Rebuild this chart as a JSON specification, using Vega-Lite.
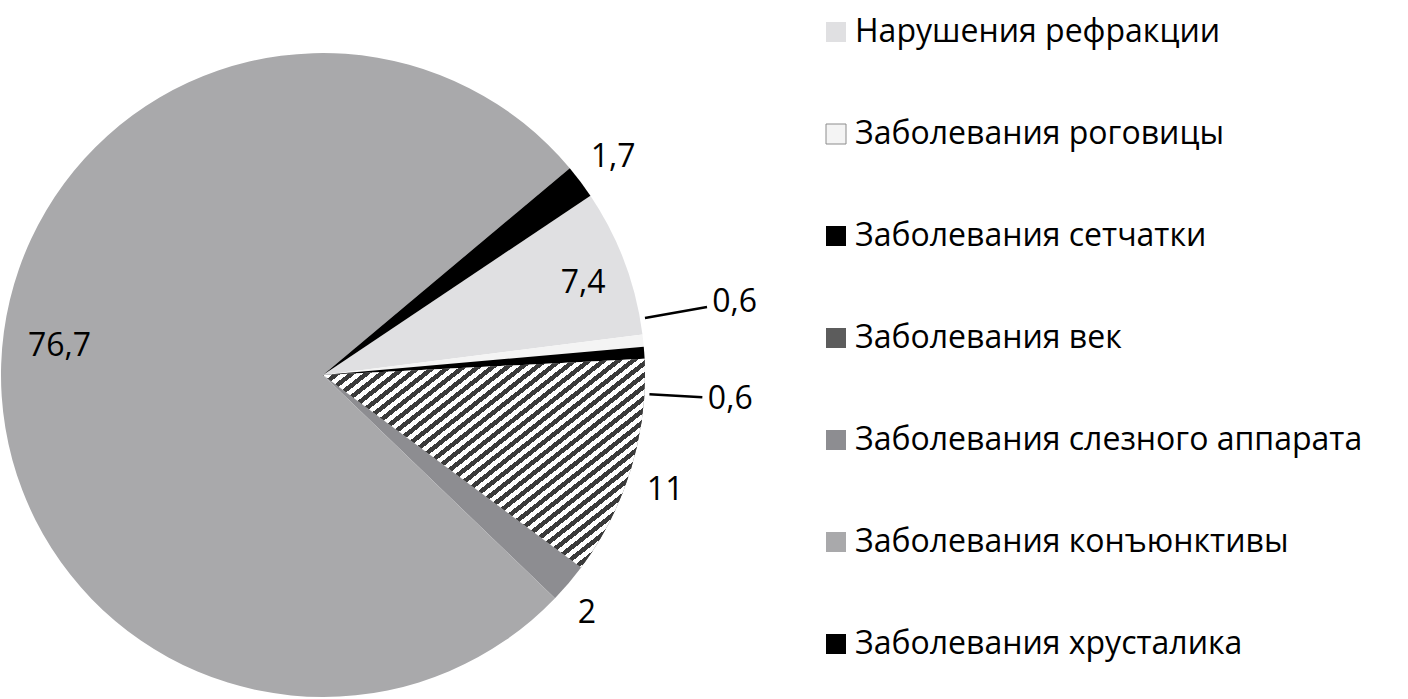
{
  "$schema": "https://vega.github.io/schema/vega-lite/v6.json",
  "width": 646,
  "height": 750,
  "autosize": {"type": "none"},
  "padding": {"left": 0, "top": 0, "right": 762, "bottom": 0},
  "background": "white",
  "config": {"view": {"stroke": null}, "font": "Open Sans"},
  "data": {
    "values": [
      {"cat": "Нарушения рефракции", "value": 7.4, "label": "7,4", "order": 1},
      {"cat": "Заболевания роговицы", "value": 0.6, "label": "0,6", "order": 2},
      {"cat": "Заболевания сетчатки", "value": 0.6, "label": "0,6", "order": 3},
      {"cat": "Заболевания век", "value": 11, "label": "11", "order": 4},
      {"cat": "Заболевания слезного аппарата", "value": 2, "label": "2", "order": 5},
      {"cat": "Заболевания конъюнктивы", "value": 76.7, "label": "76,7", "order": 6},
      {"cat": "Заболевания хрусталика", "value": 1.7, "label": "1,7", "order": 7}
    ]
  },
  "transform": [
    {"stack": "value", "groupby": [], "sort": [{"field": "order", "order": "ascending"}], "as": ["s0", "s1"]}
  ],
  "layer": [
    {
      "mark": {"type": "arc", "radius": 322},
      "encoding": {
        "theta": {"field": "s0", "type": "quantitative", "scale": {"domain": [0, 100], "range": [0.98, 7.2632]}},
        "theta2": {"field": "s1"},
        "color": {
          "field": "cat",
          "type": "nominal",
          "sort": null,
          "scale": {
            "domain": ["Нарушения рефракции", "Заболевания роговицы", "Заболевания сетчатки", "Заболевания век", "Заболевания слезного аппарата", "Заболевания конъюнктивы", "Заболевания хрусталика"],
            "range": ["#e0e0e2", "#f4f4f4", "#000000", "#5c5c5c", "#8d8d91", "#a9a9ab", "#000000"]
          },
          "legend": {
            "title": null,
            "orient": "none",
            "legendX": 820,
            "legendY": 16,
            "symbolType": "square",
            "symbolSize": 400,
            "symbolStrokeWidth": 0,
            "labelFont": "Open Sans",
            "labelFontSize": 32,
            "labelColor": "#000000",
            "labelLimit": 700,
            "labelOffset": 3,
            "rowPadding": 70,
            "padding": 0,
            "encode": {
              "symbols": {
                "update": {
                  "stroke": [
                    {"test": "datum.value === 'Заболевания роговицы'", "value": "#8c8c8c"},
                    {"value": "transparent"}
                  ],
                  "strokeWidth": {"value": 1}
                }
              }
            }
          }
        }
      }
    },
    {
      "transform": [{"filter": "datum.order === 4"}],
      "mark": {
        "type": "arc",
        "radius": 322,
        "fill": {
          "gradient": "linear", "x1": 0, "y1": 0, "x2": 1.0856, "y2": 0.8967,
          "stops": [
            {"offset": 0, "color": "#3a3a3a"}, {"offset": 0.0125, "color": "#3a3a3a"}, {"offset": 0.0125, "color": "#ffffff"}, {"offset": 0.025, "color": "#ffffff"},
            {"offset": 0.025, "color": "#3a3a3a"}, {"offset": 0.0375, "color": "#3a3a3a"}, {"offset": 0.0375, "color": "#ffffff"}, {"offset": 0.05, "color": "#ffffff"},
            {"offset": 0.05, "color": "#3a3a3a"}, {"offset": 0.0625, "color": "#3a3a3a"}, {"offset": 0.0625, "color": "#ffffff"}, {"offset": 0.075, "color": "#ffffff"},
            {"offset": 0.075, "color": "#3a3a3a"}, {"offset": 0.0875, "color": "#3a3a3a"}, {"offset": 0.0875, "color": "#ffffff"}, {"offset": 0.1, "color": "#ffffff"},
            {"offset": 0.1, "color": "#3a3a3a"}, {"offset": 0.1125, "color": "#3a3a3a"}, {"offset": 0.1125, "color": "#ffffff"}, {"offset": 0.125, "color": "#ffffff"},
            {"offset": 0.125, "color": "#3a3a3a"}, {"offset": 0.1375, "color": "#3a3a3a"}, {"offset": 0.1375, "color": "#ffffff"}, {"offset": 0.15, "color": "#ffffff"},
            {"offset": 0.15, "color": "#3a3a3a"}, {"offset": 0.1625, "color": "#3a3a3a"}, {"offset": 0.1625, "color": "#ffffff"}, {"offset": 0.175, "color": "#ffffff"},
            {"offset": 0.175, "color": "#3a3a3a"}, {"offset": 0.1875, "color": "#3a3a3a"}, {"offset": 0.1875, "color": "#ffffff"}, {"offset": 0.2, "color": "#ffffff"},
            {"offset": 0.2, "color": "#3a3a3a"}, {"offset": 0.2125, "color": "#3a3a3a"}, {"offset": 0.2125, "color": "#ffffff"}, {"offset": 0.225, "color": "#ffffff"},
            {"offset": 0.225, "color": "#3a3a3a"}, {"offset": 0.2375, "color": "#3a3a3a"}, {"offset": 0.2375, "color": "#ffffff"}, {"offset": 0.25, "color": "#ffffff"},
            {"offset": 0.25, "color": "#3a3a3a"}, {"offset": 0.2625, "color": "#3a3a3a"}, {"offset": 0.2625, "color": "#ffffff"}, {"offset": 0.275, "color": "#ffffff"},
            {"offset": 0.275, "color": "#3a3a3a"}, {"offset": 0.2875, "color": "#3a3a3a"}, {"offset": 0.2875, "color": "#ffffff"}, {"offset": 0.3, "color": "#ffffff"},
            {"offset": 0.3, "color": "#3a3a3a"}, {"offset": 0.3125, "color": "#3a3a3a"}, {"offset": 0.3125, "color": "#ffffff"}, {"offset": 0.325, "color": "#ffffff"},
            {"offset": 0.325, "color": "#3a3a3a"}, {"offset": 0.3375, "color": "#3a3a3a"}, {"offset": 0.3375, "color": "#ffffff"}, {"offset": 0.35, "color": "#ffffff"},
            {"offset": 0.35, "color": "#3a3a3a"}, {"offset": 0.3625, "color": "#3a3a3a"}, {"offset": 0.3625, "color": "#ffffff"}, {"offset": 0.375, "color": "#ffffff"},
            {"offset": 0.375, "color": "#3a3a3a"}, {"offset": 0.3875, "color": "#3a3a3a"}, {"offset": 0.3875, "color": "#ffffff"}, {"offset": 0.4, "color": "#ffffff"},
            {"offset": 0.4, "color": "#3a3a3a"}, {"offset": 0.4125, "color": "#3a3a3a"}, {"offset": 0.4125, "color": "#ffffff"}, {"offset": 0.425, "color": "#ffffff"},
            {"offset": 0.425, "color": "#3a3a3a"}, {"offset": 0.4375, "color": "#3a3a3a"}, {"offset": 0.4375, "color": "#ffffff"}, {"offset": 0.45, "color": "#ffffff"},
            {"offset": 0.45, "color": "#3a3a3a"}, {"offset": 0.4625, "color": "#3a3a3a"}, {"offset": 0.4625, "color": "#ffffff"}, {"offset": 0.475, "color": "#ffffff"},
            {"offset": 0.475, "color": "#3a3a3a"}, {"offset": 0.4875, "color": "#3a3a3a"}, {"offset": 0.4875, "color": "#ffffff"}, {"offset": 0.5, "color": "#ffffff"},
            {"offset": 0.5, "color": "#3a3a3a"}, {"offset": 0.5125, "color": "#3a3a3a"}, {"offset": 0.5125, "color": "#ffffff"}, {"offset": 0.525, "color": "#ffffff"},
            {"offset": 0.525, "color": "#3a3a3a"}, {"offset": 0.5375, "color": "#3a3a3a"}, {"offset": 0.5375, "color": "#ffffff"}, {"offset": 0.55, "color": "#ffffff"},
            {"offset": 0.55, "color": "#3a3a3a"}, {"offset": 0.5625, "color": "#3a3a3a"}, {"offset": 0.5625, "color": "#ffffff"}, {"offset": 0.575, "color": "#ffffff"},
            {"offset": 0.575, "color": "#3a3a3a"}, {"offset": 0.5875, "color": "#3a3a3a"}, {"offset": 0.5875, "color": "#ffffff"}, {"offset": 0.6, "color": "#ffffff"},
            {"offset": 0.6, "color": "#3a3a3a"}, {"offset": 0.6125, "color": "#3a3a3a"}, {"offset": 0.6125, "color": "#ffffff"}, {"offset": 0.625, "color": "#ffffff"},
            {"offset": 0.625, "color": "#3a3a3a"}, {"offset": 0.6375, "color": "#3a3a3a"}, {"offset": 0.6375, "color": "#ffffff"}, {"offset": 0.65, "color": "#ffffff"},
            {"offset": 0.65, "color": "#3a3a3a"}, {"offset": 0.6625, "color": "#3a3a3a"}, {"offset": 0.6625, "color": "#ffffff"}, {"offset": 0.675, "color": "#ffffff"},
            {"offset": 0.675, "color": "#3a3a3a"}, {"offset": 0.6875, "color": "#3a3a3a"}, {"offset": 0.6875, "color": "#ffffff"}, {"offset": 0.7, "color": "#ffffff"},
            {"offset": 0.7, "color": "#3a3a3a"}, {"offset": 0.7125, "color": "#3a3a3a"}, {"offset": 0.7125, "color": "#ffffff"}, {"offset": 0.725, "color": "#ffffff"},
            {"offset": 0.725, "color": "#3a3a3a"}, {"offset": 0.7375, "color": "#3a3a3a"}, {"offset": 0.7375, "color": "#ffffff"}, {"offset": 0.75, "color": "#ffffff"},
            {"offset": 0.75, "color": "#3a3a3a"}, {"offset": 0.7625, "color": "#3a3a3a"}, {"offset": 0.7625, "color": "#ffffff"}, {"offset": 0.775, "color": "#ffffff"},
            {"offset": 0.775, "color": "#3a3a3a"}, {"offset": 0.7875, "color": "#3a3a3a"}, {"offset": 0.7875, "color": "#ffffff"}, {"offset": 0.8, "color": "#ffffff"},
            {"offset": 0.8, "color": "#3a3a3a"}, {"offset": 0.8125, "color": "#3a3a3a"}, {"offset": 0.8125, "color": "#ffffff"}, {"offset": 0.825, "color": "#ffffff"},
            {"offset": 0.825, "color": "#3a3a3a"}, {"offset": 0.8375, "color": "#3a3a3a"}, {"offset": 0.8375, "color": "#ffffff"}, {"offset": 0.85, "color": "#ffffff"},
            {"offset": 0.85, "color": "#3a3a3a"}, {"offset": 0.8625, "color": "#3a3a3a"}, {"offset": 0.8625, "color": "#ffffff"}, {"offset": 0.875, "color": "#ffffff"},
            {"offset": 0.875, "color": "#3a3a3a"}, {"offset": 0.8875, "color": "#3a3a3a"}, {"offset": 0.8875, "color": "#ffffff"}, {"offset": 0.9, "color": "#ffffff"},
            {"offset": 0.9, "color": "#3a3a3a"}, {"offset": 0.9125, "color": "#3a3a3a"}, {"offset": 0.9125, "color": "#ffffff"}, {"offset": 0.925, "color": "#ffffff"},
            {"offset": 0.925, "color": "#3a3a3a"}, {"offset": 0.9375, "color": "#3a3a3a"}, {"offset": 0.9375, "color": "#ffffff"}, {"offset": 0.95, "color": "#ffffff"},
            {"offset": 0.95, "color": "#3a3a3a"}, {"offset": 0.9625, "color": "#3a3a3a"}, {"offset": 0.9625, "color": "#ffffff"}, {"offset": 0.975, "color": "#ffffff"},
            {"offset": 0.975, "color": "#3a3a3a"}, {"offset": 0.9875, "color": "#3a3a3a"}, {"offset": 0.9875, "color": "#ffffff"}, {"offset": 1, "color": "#ffffff"}
          ]
        }
      },
      "encoding": {
        "theta": {"field": "s0", "type": "quantitative", "scale": {"domain": [0, 100], "range": [0.98, 7.2632]}},
        "theta2": {"field": "s1"}
      }
    },
    {
      "transform": [{"filter": "datum.order === 2"}],
      "mark": {"type": "arc", "radius": 390, "radius2": 327, "thetaOffset": -0.0496, "theta2Offset": -0.0496, "fill": "transparent", "stroke": "#000000", "strokeWidth": 2.5},
      "encoding": {
        "theta": {"field": "s0", "type": "quantitative", "scale": {"domain": [0, 100], "range": [0.98, 7.2632]}},
        "theta2": {"field": "s0"}
      }
    },
    {
      "transform": [{"filter": "datum.order === 3"}],
      "mark": {"type": "arc", "radius": 380, "radius2": 327, "thetaOffset": 0.147, "theta2Offset": 0.147, "fill": "transparent", "stroke": "#000000", "strokeWidth": 2.5},
      "encoding": {
        "theta": {"field": "s0", "type": "quantitative", "scale": {"domain": [0, 100], "range": [0.98, 7.2632]}},
        "theta2": {"field": "s0"}
      }
    },
    {
      "transform": [{"filter": "datum.order === 1"}],
      "mark": {"type": "text", "radius": 276, "thetaOffset": 0.2505, "fontSize": 32, "font": "Open Sans", "color": "#000000"},
      "encoding": {
        "theta": {"field": "s0", "type": "quantitative", "stack": null, "scale": {"domain": [0, 100], "range": [0.98, 7.2632]}},
        "text": {"field": "label"}
      }
    },
    {
      "transform": [{"filter": "datum.order === 2"}],
      "mark": {"type": "text", "radius": 418, "thetaOffset": -0.0496, "fontSize": 32, "font": "Open Sans", "color": "#000000"},
      "encoding": {
        "theta": {"field": "s0", "type": "quantitative", "stack": null, "scale": {"domain": [0, 100], "range": [0.98, 7.2632]}},
        "text": {"field": "label"}
      }
    },
    {
      "transform": [{"filter": "datum.order === 3"}],
      "mark": {"type": "text", "radius": 408, "thetaOffset": 0.147, "fontSize": 32, "font": "Open Sans", "color": "#000000"},
      "encoding": {
        "theta": {"field": "s0", "type": "quantitative", "stack": null, "scale": {"domain": [0, 100], "range": [0.98, 7.2632]}},
        "text": {"field": "label"}
      }
    },
    {
      "transform": [{"filter": "datum.order === 4"}],
      "mark": {"type": "text", "radius": 361, "thetaOffset": 0.375, "fontSize": 32, "font": "Open Sans", "color": "#000000"},
      "encoding": {
        "theta": {"field": "s0", "type": "quantitative", "stack": null, "scale": {"domain": [0, 100], "range": [0.98, 7.2632]}},
        "text": {"field": "label"}
      }
    },
    {
      "transform": [{"filter": "datum.order === 5"}],
      "mark": {"type": "text", "radius": 355, "thetaOffset": 0.0923, "fontSize": 32, "font": "Open Sans", "color": "#000000"},
      "encoding": {
        "theta": {"field": "s0", "type": "quantitative", "stack": null, "scale": {"domain": [0, 100], "range": [0.98, 7.2632]}},
        "text": {"field": "label"}
      }
    },
    {
      "transform": [{"filter": "datum.order === 6"}],
      "mark": {"type": "text", "radius": 265, "thetaOffset": 2.4834, "fontSize": 32, "font": "Open Sans", "color": "#000000"},
      "encoding": {
        "theta": {"field": "s0", "type": "quantitative", "stack": null, "scale": {"domain": [0, 100], "range": [0.98, 7.2632]}},
        "text": {"field": "label"}
      }
    },
    {
      "transform": [{"filter": "datum.order === 7"}],
      "mark": {"type": "text", "radius": 363, "thetaOffset": 0.0529, "fontSize": 32, "font": "Open Sans", "color": "#000000"},
      "encoding": {
        "theta": {"field": "s0", "type": "quantitative", "stack": null, "scale": {"domain": [0, 100], "range": [0.98, 7.2632]}},
        "text": {"field": "label"}
      }
    }
  ]
}
